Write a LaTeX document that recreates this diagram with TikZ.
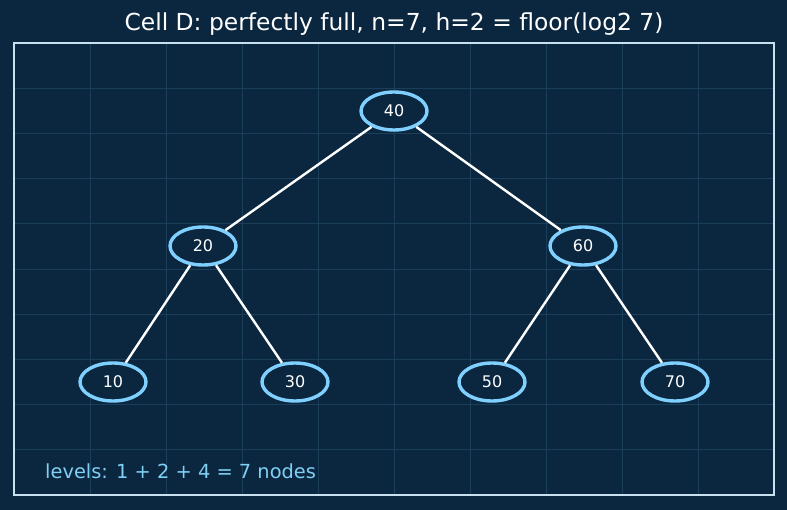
\documentclass[tikz,border=0pt]{standalone}
\usepackage{fontspec}
\setmainfont{DejaVu Sans}
\usetikzlibrary{shapes.geometric}
\definecolor{bg}{HTML}{0B2740}
\definecolor{gridc}{HTML}{1B3E5A}
\definecolor{framec}{HTML}{C9E0F0}
\definecolor{nodec}{HTML}{7FD0FF}
\definecolor{labc}{HTML}{80CFF5}
\begin{document}
\begin{tikzpicture}[x=1pt,y=-1pt,
  tnode/.style={ellipse,draw=nodec,line width=3.4pt,fill=bg,minimum width=66pt,minimum height=38pt,inner sep=0pt,text=white,font=\fontsize{16}{19}\selectfont},
  edge/.style={draw=white,line width=2.4pt}]
\fill[bg] (0,0) rectangle (787,510);
\useasboundingbox (0,0) rectangle (787,510);
\foreach \i in {1,...,9}{
  \draw[gridc,line width=0.7pt] (14+76*\i,43) -- (14+76*\i,495);
  \draw[gridc,line width=0.7pt] (14,43+45.2*\i) -- (774,43+45.2*\i);
}
\draw[framec,line width=1.8pt] (14,43) rectangle (774,495);
\node[text=white,font=\fontsize{23.4}{28}\selectfont] (title) at (394,24) {Cell D: perfectly full, n=7, h=2 = floor(log2 7)};
\node[tnode] (n40) at (394,111) {40};
\node[tnode] (n20) at (203,246) {20};
\node[tnode] (n60) at (583,246) {60};
\node[tnode] (n10) at (113,382) {10};
\node[tnode] (n30) at (295,382) {30};
\node[tnode] (n50) at (492,382) {50};
\node[tnode] (n70) at (675,382) {70};
\draw[edge] (n40) -- (n20);
\draw[edge] (n40) -- (n60);
\draw[edge] (n20) -- (n10);
\draw[edge] (n20) -- (n30);
\draw[edge] (n60) -- (n50);
\draw[edge] (n60) -- (n70);
\node[anchor=west,inner sep=0pt,text=labc,font=\fontsize{19.4}{23}\selectfont] (lev) at (45,471) {levels: 1 + 2 + 4 = 7 nodes};
\end{tikzpicture}
\end{document}
